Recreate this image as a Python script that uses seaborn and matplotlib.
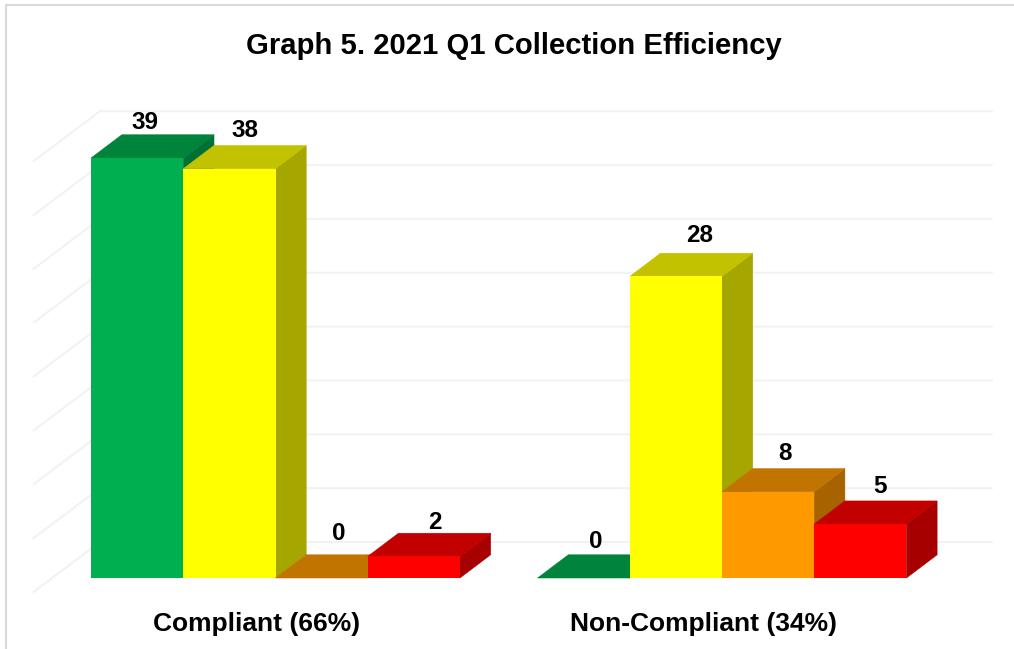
import pandas as pd
import matplotlib.pyplot as plt
import seaborn as sns
from matplotlib.patches import Polygon

categories = ['Compliant (66%)', 'Non-Compliant (34%)']
levels = ['High', 'Medium', 'Low', 'Very low']
compliant = [39, 38, 0, 2]
non_compliant = [0, 28, 8, 5]
grid_values = [0, 5, 10, 15, 20, 25, 30, 35, 40]

# front, top and side shade of each bar
front_colors = ['#00B050', '#FFFF00', '#FF9900', '#FF0000']
top_colors = ['#00843C', '#C2C200', '#C27400', '#C20000']
side_colors = ['#007034', '#A6A600', '#A66300', '#A60000']

# label position relative to the top of the bar front, in pixels
label_offsets = [(8, 35), (16, 38), (17, 45), (21, 34),
                 (12, 37), (23.5, 41), (17, 38), (20, 38)]

df = pd.DataFrame({
    'category': [categories[0]] * 4 + [categories[1]] * 4,
    'level': levels * 2,
    'value': compliant + non_compliant,
})

sns.set_theme(style='white')
plt.rcParams['font.family'] = ['Liberation Sans', 'DejaVu Sans']

fig = plt.figure(figsize=(10.14, 6.49), dpi=100, facecolor='white')
ax = fig.add_axes([0, 0, 1, 1])

sns.barplot(data=df, x='category', y='value', hue='level', hue_order=levels,
            palette=front_colors, saturation=1, width=0.826, gap=0, linewidth=0,
            legend=False, ax=ax)

# scale: categories 446.5 px apart, 10.77 px per unit, zero at pixel row 578
px_x = 446.5
px_y = 10.77
ax.set_xlim(-275.5 / px_x, (1014 - 275.5) / px_x)
ax.set_ylim(-(649 - 578) / px_y, 578 / px_y)
ax.set_axis_off()

depth_x = 30.7 / px_x
depth_y = 23.2 / px_y

# gridlines on the back wall and the slanted part on the left wall
grid_dy = 36 / px_y
wall_x = (100 - 275.5) / px_x
front_x = (33.5 - 275.5) / px_x
end_x = (992 - 275.5) / px_x
wall_drop = 50 / px_y
for v in grid_values:
    ax.plot([front_x, wall_x, end_x],
            [v + grid_dy - wall_drop, v + grid_dy, v + grid_dy],
            color='#F2F2F2', lw=1.5, zorder=1, solid_joinstyle='miter')

# extrude the seaborn bars, painted left to right
bars = sorted([p for p in ax.patches], key=lambda p: p.get_x())
for i, bar in enumerate(bars):
    x0 = bar.get_x()
    x1 = x0 + bar.get_width()
    h = bar.get_height()
    c = i % 4
    z = 2 + i
    ax.add_patch(Polygon([(x1, 0), (x1 + depth_x, depth_y),
                          (x1 + depth_x, h + depth_y), (x1, h)],
                         facecolor=side_colors[c], edgecolor=side_colors[c],
                         lw=0.4, zorder=z))
    ax.add_patch(Polygon([(x0, h), (x0 + depth_x, h + depth_y),
                          (x1 + depth_x, h + depth_y), (x1, h)],
                         facecolor=top_colors[c], edgecolor=top_colors[c],
                         lw=0.4, zorder=z + 0.1))
    bar.set_zorder(z + 0.2)
    ox, oy = label_offsets[i]
    ax.annotate(str(int(h)), xy=((x0 + x1) / 2, h),
                xytext=(ox * 0.72, oy * 0.72), textcoords='offset points',
                ha='center', va='center', fontsize=17.5, fontweight='bold',
                color='black', zorder=30)

# category labels
for i, cat in enumerate(categories):
    ax.annotate(cat, xy=(i, 0), xytext=(-19 * 0.72, -46 * 0.72),
                textcoords='offset points', ha='center', va='center',
                fontsize=19, fontweight='bold', color='black')

fig.suptitle('Graph 5. 2021 Q1 Collection Efficiency', x=514 / 1014, y=1 - 46 / 649,
             ha='center', va='center', fontsize=21.1, fontweight='bold', color='black')

# outer chart frame, only the top and left edges are in the crop
fig.add_artist(plt.Line2D([6 / 1014, 6 / 1014, 1], [0, 1 - 5 / 649, 1 - 5 / 649],
                          color='#D9D9D9', lw=1.5))

plt.savefig('out.png', dpi=100)
